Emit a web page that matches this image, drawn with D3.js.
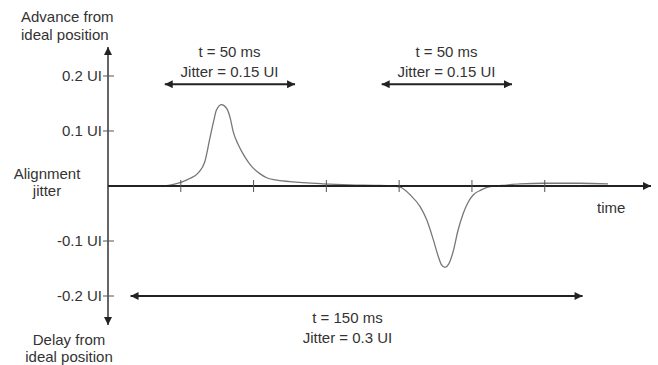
<!DOCTYPE html>
<html>
<head>
<meta charset="utf-8">
<script src="https://cdn.jsdelivr.net/npm/d3@7"></script>
<style>
  html, body { margin: 0; padding: 0; background: #fff; }
  svg text { font-family: "Liberation Sans", Arial, Helvetica, sans-serif; font-size: 15px; fill: #333; }
</style>
</head>
<body>
<svg id="chart" width="658" height="365"></svg>
<script>
// ---- data (time in tick units, jitter in UI) ----
const timePoints = [0.78, 1.01, 1.13, 1.24, 1.33, 1.40, 1.45, 1.49, 1.56, 1.63, 1.68, 1.72, 1.79, 1.88, 1.97, 2.09, 2.18, 2.30, 2.50, 2.95, 3.32, 3.74,
                    4.01, 4.15, 4.29, 4.38, 4.47, 4.54, 4.58, 4.63, 4.68, 4.74, 4.81, 4.88, 4.95, 5.02, 5.13, 5.22, 5.32,
                    5.41, 5.66, 6.00, 6.48, 6.87];
const jitterValues = [0, 0.007, 0.014, 0.024, 0.044, 0.087, 0.117, 0.138, 0.148, 0.141, 0.123, 0.099, 0.075, 0.053, 0.036, 0.022, 0.015, 0.011, 0.008, 0.004, 0.002, 0.001,
                      -0.002, -0.016, -0.038, -0.062, -0.098, -0.129, -0.143, -0.148, -0.142, -0.120, -0.080, -0.050, -0.029, -0.016, -0.007, -0.002, 0,
                      0.001, 0.004, 0.005, 0.005, 0.004];
const xTicks = [1, 2, 3, 4, 5, 6];
const yTicks = [0.2, 0.1, -0.1, -0.2];
const yTickLabels = ["0.2 UI", "0.1 UI", "-0.1 UI", "-0.2 UI"];
const spanStart = [0.78, 3.76, 0.31];
const spanEnd = [2.57, 5.55, 6.52];
const spanLevel = [0.185, 0.185, -0.2];
const spanLabelT = [1.67, 4.65, 3.29];
const spanLine1 = ["t = 50 ms", "t = 50 ms", "t = 150 ms"];
const spanLine2 = ["Jitter = 0.15 UI", "Jitter = 0.15 UI", "Jitter = 0.3 UI"];

// ---- scales ----
const x = d3.scaleLinear().domain([0, 7.46]).range([108, 651]);
const y = d3.scaleLinear().domain([-0.2527, 0.2527]).range([325, 47]);

const svg = d3.select("#chart");
const defs = svg.append("defs");
function marker(id, color, w, h) {
  defs.append("marker").attr("id", id).attr("viewBox", "0 0 10 10")
    .attr("refX", 10).attr("refY", 5).attr("markerUnits", "userSpaceOnUse")
    .attr("markerWidth", w).attr("markerHeight", h).attr("orient", "auto-start-reverse")
    .append("path").attr("d", "M0,0 L10,5 L0,10 Z").attr("fill", color);
}
marker("axArrow", "#222", 9, 8);
marker("spanArrow", "#222", 9, 8);

// ---- jitter curve (drawn under the axis) ----
const series = timePoints.map((t, i) => [t, jitterValues[i]]);
const line = d3.line().x(d => x(d[0])).y(d => y(d[1])).curve(d3.curveMonotoneX);
svg.append("path").datum(series).attr("d", line)
  .attr("fill", "none").attr("stroke", "#777").attr("stroke-width", 1.3);

// ---- y axis ----
svg.append("line")
  .attr("x1", x(0)).attr("x2", x(0))
  .attr("y1", y(0.2527)).attr("y2", y(-0.2527))
  .attr("stroke", "#333").attr("stroke-width", 1.5)
  .attr("marker-start", "url(#axArrow)").attr("marker-end", "url(#axArrow)");
const yt = svg.append("g").selectAll("g").data(yTicks).join("g")
  .attr("transform", d => `translate(${x(0)},${y(d)})`);
yt.append("line").attr("x1", -5).attr("x2", 6).attr("stroke", "#555").attr("stroke-width", 1);
yt.append("text").attr("x", -6).attr("dy", "0.36em").attr("text-anchor", "end")
  .text((d, i) => yTickLabels[i]);

// ---- x axis ----
svg.append("line")
  .attr("x1", x(0)).attr("x2", x(7.46))
  .attr("y1", y(0)).attr("y2", y(0))
  .attr("stroke", "#222").attr("stroke-width", 2)
  .attr("marker-end", "url(#axArrow)");
svg.append("g").selectAll("line").data(xTicks).join("line")
  .attr("x1", d => x(d)).attr("x2", d => x(d))
  .attr("y1", y(0) - 6).attr("y2", y(0) + 6)
  .attr("stroke", "#555").attr("stroke-width", 1);

// ---- span arrows ----
const spans = svg.append("g").selectAll("g").data(spanStart).join("g");
spans.append("line")
  .attr("x1", d => x(d)).attr("x2", (d, i) => x(spanEnd[i]))
  .attr("y1", (d, i) => y(spanLevel[i])).attr("y2", (d, i) => y(spanLevel[i]))
  .attr("stroke", "#222").attr("stroke-width", 2.2)
  .attr("marker-start", "url(#spanArrow)").attr("marker-end", "url(#spanArrow)");
spans.append("text").attr("text-anchor", "middle")
  .attr("x", (d, i) => x(spanLabelT[i]))
  .attr("y", (d, i) => spanLevel[i] > 0 ? y(spanLevel[i]) - 27 : y(spanLevel[i]) + 27)
  .text((d, i) => spanLine1[i]);
spans.append("text").attr("text-anchor", "middle")
  .attr("x", (d, i) => x(spanLabelT[i]))
  .attr("y", (d, i) => spanLevel[i] > 0 ? y(spanLevel[i]) - 7 : y(spanLevel[i]) + 47)
  .text((d, i) => spanLine2[i]);

// ---- axis titles ----
svg.append("text").attr("x", 21).attr("y", 22).text("Advance from");
svg.append("text").attr("x", 21).attr("y", 40).text("ideal position");
svg.append("text").attr("x", 47).attr("y", 179).attr("text-anchor", "middle").text("Alignment");
svg.append("text").attr("x", 47).attr("y", 196).attr("text-anchor", "middle").text("jitter");
svg.append("text").attr("x", 69).attr("y", 345).attr("text-anchor", "middle").text("Delay from");
svg.append("text").attr("x", 69).attr("y", 362).attr("text-anchor", "middle").text("ideal position");
svg.append("text").attr("x", 597).attr("y", 213).text("time");
</script>
</body>
</html>
